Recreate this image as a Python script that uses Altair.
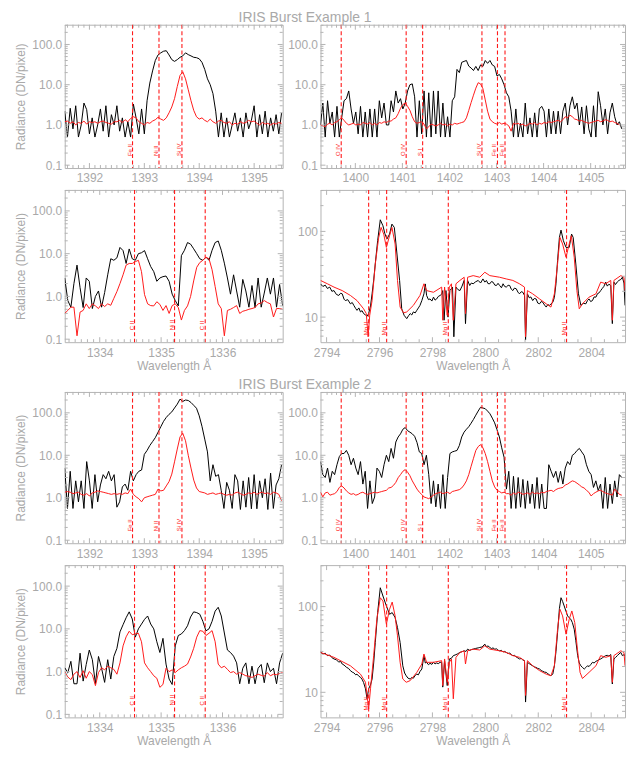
import altair as alt
import pandas as pd

FONT = "Liberation Sans, Arial, sans-serif"
TXT = "#a9a9a9"
FRAME = "#b3b3b3"
RED = "#ff1a1a"
STEP = 0.05

# ---------------- wavelength windows / ticks ----------------
SI3_DOM = [1391.55, 1395.52]
SI3_MAJ = [1392, 1393, 1394, 1395]
SI4_DOM = [1399.26, 1405.73]
SI4_MAJ = [1400, 1401, 1402, 1403, 1404, 1405]
C2_DOM = [1333.43, 1336.98]
C2_MAJ = [1334, 1335, 1336]
MG_DOM = [2793.77, 2805.28]
MG_MAJ = [2794, 2796, 2798, 2800, 2802, 2804]

FUV_YDOM = [0.085, 310]
FUV_YMAJ = [0.1, 1, 10, 100]
FUV_YMIN = [0.2, 0.3, 0.4, 0.5, 0.6, 0.7, 0.8, 0.9, 2, 3, 4, 5, 6, 7, 8, 9,
            20, 30, 40, 50, 60, 70, 80, 90, 200, 300]
MG_YDOM = [5.1, 305]
MG_YMAJ = [10, 100]
MG_YMIN = [6, 7, 8, 9, 20, 30, 40, 50, 60, 70, 80, 90, 200, 300]

# line markers
SI3_LINES = [1392.785, 1393.267, 1393.685]
SI3_LABS = ["Fe II", "Ni II", "Si IV"]
SI4_LINES = [1399.70, 1401.08, 1401.43, 1402.69, 1403.02, 1403.18]
SI4_LABS = ["O IV", "O IV", "S I", "Si IV", "Fe II", "Fe II"]
C2_LINES = [1334.567, 1335.219, 1335.718]
C2_LABS = ["C II", "Ni II", "C II"]
MG_LINES = [2795.59, 2796.27, 2798.60, 2803.07]
MG_LABS = ["Mg II", "Mg II", "Mg II", "Mg II"]

# ---------------- Example 1 spectra ----------------
A1_black = [2.2, 0.5, 2.6, 0.8, 3.0, 0.5, 1.0, 3.5, 2.4, 0.6,
            1.5, 0.5, 1.0, 2.5, 0.7, 3.0, 0.5, 1.8, 1.0, 3.0,
            0.7, 1.5, 0.5, 1.2, 0.5, 3.3, 1.5, 0.6, 2.5, 0.6,
            4.0, 11, 22, 40, 55, 62, 68, 70, 55, 42,
            38, 42, 48, 52, 62, 56, 52, 48, 47, 44,
            36, 24, 14, 10, 6, 2.2, 0.5, 2.0, 0.5, 1.5,
            0.5, 1.0, 2.0, 0.7, 1.5, 0.5, 2.0, 0.8, 1.3, 3.0,
            0.5, 1.8, 0.6, 2.2, 0.5, 1.5, 0.7, 1.8, 0.6, 2.0]
A1_red = [1.2, 1.25, 1.1, 1.2, 1.0, 1.15, 1.1, 1.25, 1.05, 1.2,
          1.15, 1.2, 1.1, 1.2, 1.25, 1.15, 1.1, 1.05, 1.2, 1.2,
          1.3, 1.15, 1.35, 1.2, 1.45, 1.6, 1.5, 1.2, 1.1, 1.0,
          1.15, 1.1, 1.25, 1.35, 1.55, 1.4, 1.3, 1.5, 2.0, 2.8,
          4.5, 9.0, 17, 21, 14, 7.5, 4.0, 2.3, 1.6, 1.4,
          1.5, 1.3, 1.2, 1.4, 1.2, 1.1, 1.25, 1.3, 1.15, 1.1,
          1.2, 1.0, 1.1, 1.05, 1.2, 1.1, 1.15, 1.3, 1.2, 1.25,
          1.1, 1.0, 1.15, 1.05, 1.1, 1.0, 1.1, 1.05, 1.15, 1.1]

B1_black = [1.0, 3.5, 0.5, 4.0, 1.1, 2.1, 0.5, 2.9, 0.5, 1.5,
            4.0, 4.5, 7.0, 2.5, 1.1, 2.1, 0.6, 2.9, 0.5, 2.1,
            0.5, 2.5, 0.5, 2.5, 0.5, 4.0, 1.5, 3.5, 1.0, 1.0,
            4.0, 2.1, 7.0, 3.5, 4.5, 2.5, 3.5, 7.0, 10, 10.5,
            5.0, 0.5, 4.0, 0.6, 7.0, 0.5, 6.3, 0.5, 7.0, 0.6,
            7.0, 0.5, 3.5, 0.5, 1.6, 0.5, 4.0, 5.0, 24, 20,
            36, 38, 40, 29, 26, 22.5, 28.5, 22.5, 31, 28.5,
            40, 34, 40, 31, 28.5, 16.5, 18, 14, 10, 6.3,
            5.0, 2.2, 0.5, 2.5, 0.5, 1.1, 0.5, 3.5, 0.6, 1.5,
            0.5, 2.0, 0.5, 2.5, 2.9, 2.2, 0.5, 2.5, 0.6, 2.2,
            0.6, 2.2, 0.6, 2.2, 3.5, 1.0, 3.0, 5.0, 2.5, 3.5,
            1.0, 2.8, 0.6, 3.0, 0.8, 0.5, 3.0, 0.5, 6.7, 3.0,
            1.0, 2.5, 0.6, 2.0, 3.5, 1.6, 1.0, 1.2, 0.8]
B1_red = [1.0, 0.95, 0.9, 1.05, 1.1, 1.0, 1.15, 1.2, 1.35, 1.5,
          1.3, 1.1, 1.0, 1.05, 1.1, 1.0, 1.05, 1.0, 1.15, 1.1,
          1.05, 1.15, 1.0, 1.1, 1.0, 1.15, 1.1, 1.2, 1.15, 1.25,
          1.25, 1.4, 1.5, 1.9, 2.6, 3.2, 3.5, 2.9, 2.3, 1.6,
          1.2, 1.1, 1.15, 1.2, 1.05, 0.8, 0.9, 1.05, 1.0, 0.95,
          1.0, 1.1, 1.0, 1.05, 0.95, 1.05, 1.0, 1.1, 1.05, 1.1,
          1.15, 1.2, 1.5, 2.3, 3.6, 5.5, 8.2, 11.2, 10.5, 8.0,
          4.2, 2.2, 1.4, 1.2, 1.1, 1.05, 1.15, 1.05, 1.1, 1.05,
          0.95, 0.7, 1.1, 1.05, 1.1, 1.0, 1.05, 0.95, 1.0, 1.1,
          1.05, 1.15, 1.0, 1.1, 1.05, 1.15, 1.1, 1.2, 1.15, 1.2,
          1.25, 1.3, 1.2, 1.35, 1.6, 1.5, 1.75, 1.6, 1.4, 1.35,
          1.25, 1.3, 1.2, 1.15, 1.1, 1.15, 1.2, 1.25, 1.3, 1.2,
          1.25, 1.35, 1.3, 1.2, 1.25, 1.15, 1.1, 1.0]

C1_black = [2.7, 0.8, 0.56, 2.0, 5.4, 1.6, 0.55, 2.7, 2.26, 0.52,
            1.0, 1.34, 0.56, 1.23, 3.2, 7.6, 7.0, 8.0, 14, 11.8,
            5.9, 12.9, 7.6, 7.0, 10, 10.5, 11.8, 7.6, 5.0, 3.8,
            2.26, 2.7, 2.9, 3.0, 2.26, 1.13, 0.8, 0.6, 9.0, 12,
            18.2, 16.7, 13, 10, 7.6, 7.0, 8.3, 7.0, 12, 18.2,
            19.8, 12, 6.0, 2.7, 1.13, 3.2, 1.34, 0.56, 2.5, 1.34,
            0.56, 1.8, 0.55, 2.7, 0.56, 1.2, 2.7, 1.13, 2.7, 0.56,
            1.9, 0.6]
C1_red = [0.4, 0.47, 0.56, 0.56, 0.12, 0.43, 0.47, 0.67, 0.52, 0.67,
          0.6, 0.52, 0.67, 0.58, 0.67, 0.62, 0.9, 1.3, 2.0, 3.2,
          5.4, 5.9, 5.9, 6.5, 7.0, 3.8, 1.1, 0.67, 0.61, 0.6,
          0.75, 0.65, 0.47, 0.61, 0.4, 0.61, 0.67, 0.55, 0.28, 0.47,
          0.6, 1.0, 2.3, 4.8, 6.2, 7.0, 8.3, 7.6, 4.2, 1.7,
          0.67, 0.52, 0.12, 0.47, 0.5, 0.55, 0.61, 0.4, 0.45, 0.47,
          0.5, 0.52, 0.55, 0.67, 0.7, 0.8, 0.72, 0.67, 0.33, 0.52,
          0.52, 0.5]

D1_black = [(2793.77, 24.4), (2793.86, 22.8), (2793.95, 23.6), (2794.03, 21.6), (2794.12, 22.4),
            (2794.20, 20.0), (2794.28, 20.4), (2794.37, 18.4), (2794.46, 17.9), (2794.53, 19.0),
            (2794.59, 18.7), (2794.66, 16.2), (2794.71, 15.6), (2794.80, 16.0), (2794.90, 14.3),
            (2794.97, 14.8), (2795.03, 13.7), (2795.10, 12.6), (2795.15, 12.0), (2795.22, 12.8),
            (2795.28, 11.5), (2795.34, 11.9), (2795.40, 11.0), (2795.47, 10.6), (2795.53, 10.2),
            (2795.59, 11.0), (2795.66, 13.5), (2795.72, 18.7), (2795.78, 27.0), (2795.84, 41.7),
            (2795.93, 77.9), (2796.03, 136.7), (2796.13, 116.4), (2796.20, 95.0), (2796.28, 81.4),
            (2796.38, 93.1), (2796.47, 121.7), (2796.56, 111.3), (2796.66, 54.5), (2796.76, 26.8),
            (2796.84, 12.5), (2796.93, 10.5), (2797.03, 9.6), (2797.10, 10.4), (2797.16, 11.0),
            (2797.22, 10.6), (2797.28, 11.5), (2797.35, 11.2), (2797.41, 12.0), (2797.47, 12.8),
            (2797.53, 13.7), (2797.60, 15.6), (2797.68, 18.7), (2797.73, 24.4), (2797.78, 17.9),
            (2797.85, 16.0), (2797.91, 16.3), (2797.98, 15.4), (2798.04, 17.1), (2798.10, 15.8),
            (2798.16, 16.3), (2798.22, 17.4), (2798.29, 17.9), (2798.35, 18.5), (2798.39, 20.4),
            (2798.44, 9.2), (2798.51, 20.4), (2798.59, 10.0), (2798.66, 20.4), (2798.76, 22.4),
            (2798.81, 5.9), (2798.89, 22.4), (2798.96, 21.0), (2799.04, 20.4), (2799.12, 23.0),
            (2799.20, 26.8), (2799.25, 8.4), (2799.33, 26.8), (2799.41, 23.4), (2799.47, 25.0),
            (2799.54, 24.5), (2799.63, 25.8), (2799.73, 26.8), (2799.82, 25.0), (2799.91, 27.9),
            (2799.98, 25.6), (2800.04, 26.8), (2800.10, 24.6), (2800.17, 24.5), (2800.23, 26.0),
            (2800.29, 25.6), (2800.36, 23.6), (2800.42, 23.4), (2800.48, 24.8), (2800.54, 23.4),
            (2800.61, 22.0), (2800.67, 24.5), (2800.73, 22.8), (2800.79, 22.4), (2800.86, 23.5),
            (2800.92, 23.4), (2800.98, 21.2), (2801.04, 20.4), (2801.10, 21.8), (2801.17, 21.4),
            (2801.23, 19.6), (2801.29, 18.7), (2801.36, 19.8), (2801.42, 19.5), (2801.48, 17.9),
            (2801.52, 5.4), (2801.59, 18.7), (2801.66, 16.8), (2801.72, 17.2), (2801.79, 15.6),
            (2801.85, 16.5), (2801.92, 16.3), (2801.98, 14.6), (2802.05, 14.3), (2802.11, 15.2),
            (2802.17, 14.9), (2802.24, 13.8), (2802.30, 13.1), (2802.36, 14.0), (2802.42, 13.7),
            (2802.48, 14.2), (2802.55, 14.9), (2802.61, 17.0), (2802.67, 24.5), (2802.73, 45.6),
            (2802.80, 85.1), (2802.86, 103.6), (2802.95, 77.9), (2803.05, 65.1), (2803.17, 65.1),
            (2803.26, 93.1), (2803.32, 85.1), (2803.42, 41.7), (2803.52, 18.7), (2803.61, 13.7),
            (2803.70, 14.5), (2803.80, 14.3), (2803.86, 15.6), (2803.92, 16.3), (2803.98, 15.2),
            (2804.05, 15.6), (2804.11, 17.2), (2804.18, 17.1), (2804.24, 18.8), (2804.30, 19.2),
            (2804.36, 20.4), (2804.42, 21.6), (2804.48, 22.8), (2804.55, 25.6), (2804.61, 23.0),
            (2804.67, 24.2), (2804.74, 23.4), (2804.80, 8.4), (2804.86, 25.6), (2804.92, 24.0),
            (2804.99, 25.8), (2805.05, 26.8), (2805.12, 27.5), (2805.18, 29.2), (2805.24, 25.0),
            (2805.28, 13.7)]
D1_red = [(2793.77, 26.8), (2794.03, 24.5), (2794.28, 22.4), (2794.59, 20.4), (2794.90, 17.9),
          (2795.15, 15.6), (2795.40, 12.5), (2795.50, 11.0), (2795.57, 5.9), (2795.63, 10.5),
          (2795.72, 15.6), (2795.84, 41.7), (2795.97, 85.1), (2796.06, 111.3), (2796.16, 93.1),
          (2796.26, 65.1), (2796.38, 89.0), (2796.47, 111.3), (2796.59, 71.3), (2796.68, 26.8),
          (2796.78, 13.1), (2796.91, 11.2), (2797.03, 11.5), (2797.28, 13.7), (2797.53, 17.9),
          (2797.68, 24.5), (2797.78, 20.4), (2798.04, 19.5), (2798.35, 22.4), (2798.39, 9.2),
          (2798.46, 22.4), (2798.56, 10.5), (2798.64, 22.4), (2798.72, 24.5), (2798.79, 9.2),
          (2798.89, 24.5), (2799.04, 26.8), (2799.20, 29.2), (2799.25, 11.0), (2799.33, 29.2),
          (2799.54, 30.5), (2799.79, 29.2), (2799.98, 33.4), (2800.17, 30.5), (2800.54, 29.2),
          (2800.79, 27.9), (2801.04, 26.8), (2801.29, 24.5), (2801.48, 22.4), (2801.52, 5.9),
          (2801.59, 20.4), (2801.79, 18.7), (2802.05, 16.3), (2802.30, 14.3), (2802.48, 13.1),
          (2802.61, 18.7), (2802.73, 41.7), (2802.82, 85.1), (2802.92, 71.3), (2803.05, 49.9),
          (2803.17, 71.3), (2803.25, 89.0), (2803.36, 49.9), (2803.46, 20.4), (2803.55, 12.5),
          (2803.67, 14.3), (2803.92, 17.1), (2804.18, 18.7), (2804.36, 25.6), (2804.55, 24.5),
          (2804.74, 26.8), (2804.80, 9.2), (2804.86, 26.8), (2805.12, 30.5), (2805.24, 29.2),
          (2805.28, 20.4)]

# ---------------- Example 2 spectra ----------------
A2_black = [5.0, 0.56, 4.2, 0.56, 2.5, 0.8, 2.5, 0.56, 7.1, 2.5,
            0.56, 3.5, 0.8, 2.0, 3.5, 2.8, 4.2, 2.5, 3.5, 0.6,
            0.8, 1.8, 2.1, 1.5, 4.2, 2.5, 3.5, 4.2, 4.5, 10.5,
            13, 17, 21, 26, 35, 47, 63, 78, 92, 105,
            130, 160, 210, 185, 200, 195, 175, 150, 128, 85,
            48, 24, 12, 2.5, 6.0, 3.2, 3.5, 1.5, 0.56, 2.3,
            1.5, 0.56, 3.5, 2.5, 0.53, 2.5, 0.6, 3.0, 0.55, 3.5,
            0.55, 2.5, 1.0, 2.8, 0.53, 3.8, 0.56, 2.0, 2.8, 6.0]
A2_red = [1.35, 1.4, 1.35, 1.25, 1.3, 1.35, 1.2, 1.15, 1.25, 1.1,
          1.3, 1.35, 1.45, 1.4, 1.35, 1.3, 1.25, 1.2, 1.25, 1.2,
          1.25, 1.2, 1.3, 1.25, 1.6, 1.2, 1.05, 0.95, 0.8, 1.0,
          1.05, 1.1, 1.15, 1.2, 1.6, 1.45, 1.5, 1.9, 2.4, 3.6,
          7.0, 14, 27, 33, 22, 10, 5.0, 2.6, 1.7, 1.4,
          1.35, 1.3, 1.2, 1.25, 1.3, 1.2, 1.25, 1.3, 1.2, 1.15,
          1.2, 1.15, 1.3, 1.35, 1.25, 1.15, 1.2, 1.3, 1.25, 1.35,
          1.2, 1.3, 1.35, 1.25, 1.3, 1.2, 1.35, 1.3, 1.2, 0.85]

B2_black = [7.1, 3.5, 3.0, 5.0, 2.3, 4.2, 3.5, 6.0, 9.3, 11,
            11, 13, 10, 6.0, 8.5, 5.0, 3.5, 7.1, 2.1, 4.2,
            0.56, 2.5, 0.73, 1.04, 5.0, 4.2, 3.0, 6.0, 10, 7.1,
            14.5, 8.5, 20.5, 27, 32, 41, 45, 38, 35, 32,
            28, 20, 12, 11, 6.0, 10, 3.5, 0.73, 2.5, 0.61,
            2.1, 0.56, 3.5, 0.56, 3.0, 11, 12, 12.5, 13, 17,
            27, 35, 41, 47, 57, 70, 88, 110, 135, 130,
            125, 110, 95, 75, 58, 40, 27, 15, 9.0, 1.6,
            4.2, 0.56, 3.2, 0.56, 3.0, 0.6, 2.7, 0.56, 2.5, 0.73,
            2.1, 0.56, 3.0, 0.56, 2.1, 0.56, 0.56, 6.0, 4.2, 3.0,
            4.2, 2.3, 4.2, 2.1, 5.0, 7.1, 6.0, 10, 11, 13,
            14.5, 12, 10, 6.0, 4.2, 3.5, 1.75, 2.5, 1.47, 2.1,
            0.56, 3.0, 0.56, 2.1, 0.73, 2.5, 1.04, 3.5, 3.0]
B2_red = [1.35, 1.05, 1.3, 1.35, 1.15, 1.2, 1.25, 1.4, 1.75, 1.9,
          1.7, 1.45, 1.3, 1.2, 1.25, 1.15, 1.2, 1.3, 1.35, 1.25,
          1.2, 1.25, 1.3, 1.35, 1.3, 1.35, 1.4, 1.45, 1.5, 1.7,
          1.75, 1.95, 2.3, 2.97, 3.5, 4.2, 4.6, 4.0, 3.3, 2.5,
          2.0, 1.6, 1.35, 1.2, 1.04, 1.0, 0.95, 1.05, 1.15, 1.25,
          1.3, 1.35, 1.25, 1.3, 1.35, 1.25, 1.4, 1.45, 1.5, 1.55,
          1.7, 2.0, 2.5, 3.5, 5.5, 8.5, 13, 16, 17.8, 15,
          11, 7.1, 4.2, 2.5, 1.8, 1.5, 1.4, 1.3, 1.35, 1.25,
          1.25, 1.15, 1.3, 1.2, 1.35, 1.3, 1.2, 1.25, 1.3, 1.2,
          1.35, 1.25, 1.3, 1.25, 1.35, 1.3, 1.4, 1.45, 1.5, 1.4,
          1.55, 1.65, 1.7, 1.75, 2.0, 2.1, 2.3, 2.5, 2.4, 2.2,
          2.0, 1.8, 1.7, 1.5, 1.35, 1.1, 1.25, 1.35, 1.45, 1.5,
          1.4, 1.3, 1.25, 1.2, 1.15, 1.6, 1.4, 1.2, 1.15]

C2_black = [1.23, 0.95, 1.74, 0.52, 0.52, 2.7, 0.6, 1.47, 3.2, 1.9,
            0.52, 2.26, 1.2, 0.56, 1.9, 0.67, 2.26, 3.5, 8.5, 12.5,
            18.2, 25, 17, 6.4, 10, 12.9, 16.7, 20, 13, 10,
            5.0, 2.8, 6.0, 1.5, 0.67, 0.5, 4.0, 7.0, 7.6, 9.1,
            11.8, 19, 25, 24, 22, 15, 9.0, 10, 15, 26,
            32, 20, 8.0, 3.2, 2.8, 2.3, 1.6, 0.52, 1.2, 1.6,
            0.52, 1.34, 0.52, 1.2, 1.47, 0.55, 1.6, 1.0, 1.2, 0.52,
            1.6, 2.7]
C2_red = [1.0, 0.75, 0.65, 0.87, 1.0, 0.73, 1.05, 0.7, 1.0, 0.85,
          0.47, 0.95, 1.23, 1.1, 1.34, 1.23, 1.13, 0.87, 1.6, 4.0,
          6.5, 8.8, 7.3, 7.6, 7.9, 5.0, 1.6, 1.23, 1.0, 0.8,
          0.7, 0.43, 0.5, 1.2, 1.0, 1.1, 0.95, 1.1, 1.23, 1.34,
          1.5, 2.2, 3.5, 6.4, 9.1, 8.8, 7.0, 7.9, 9.1, 5.0,
          1.5, 1.23, 1.34, 1.13, 0.95, 1.0, 0.87, 0.95, 0.87, 0.8,
          0.78, 0.73, 0.8, 0.87, 0.82, 0.78, 0.95, 0.8, 0.87, 0.85,
          0.9, 0.95]

D2_black = [(2793.77, 29.5), (2793.86, 28.0), (2793.95, 28.6), (2794.03, 26.8), (2794.12, 27.2),
            (2794.20, 25.4), (2794.28, 24.5), (2794.37, 24.0), (2794.46, 22.5), (2794.53, 23.0),
            (2794.59, 21.4), (2794.66, 20.8), (2794.75, 19.6), (2794.83, 19.0), (2794.90, 17.9),
            (2794.97, 17.2), (2795.03, 16.9), (2795.10, 16.0), (2795.15, 16.3), (2795.22, 15.4),
            (2795.28, 15.0), (2795.34, 14.2), (2795.40, 13.0), (2795.47, 11.0), (2795.53, 8.4),
            (2795.59, 11.0), (2795.66, 12.2), (2795.72, 14.3), (2795.78, 22.0), (2795.84, 38.1),
            (2795.93, 85.1), (2796.03, 166.0), (2796.13, 133.0), (2796.26, 101.8), (2796.38, 81.4),
            (2796.48, 85.1), (2796.59, 74.5), (2796.68, 57.0), (2796.78, 38.1), (2796.88, 20.4),
            (2796.95, 16.8), (2797.01, 15.6), (2797.08, 14.6), (2797.16, 14.3), (2797.22, 14.9),
            (2797.28, 14.6), (2797.35, 15.8), (2797.41, 16.3), (2797.47, 16.0), (2797.53, 17.5),
            (2797.60, 18.7), (2797.68, 26.8), (2797.73, 22.0), (2797.78, 22.4), (2797.85, 21.0),
            (2797.91, 21.8), (2797.98, 21.2), (2798.04, 22.4), (2798.10, 21.5), (2798.16, 22.0),
            (2798.22, 21.6), (2798.29, 22.4), (2798.35, 22.4), (2798.39, 11.5), (2798.46, 23.4),
            (2798.56, 12.0), (2798.64, 24.5), (2798.72, 25.0), (2798.79, 26.8), (2798.89, 27.5),
            (2798.96, 28.2), (2799.04, 29.2), (2799.12, 29.8), (2799.20, 30.5), (2799.27, 30.0),
            (2799.33, 31.9), (2799.41, 30.8), (2799.47, 31.5), (2799.54, 31.9), (2799.63, 32.5),
            (2799.73, 33.0), (2799.79, 33.4), (2799.88, 33.8), (2799.98, 36.5), (2800.04, 34.0),
            (2800.10, 34.8), (2800.17, 33.4), (2800.23, 32.4), (2800.29, 33.0), (2800.36, 31.8),
            (2800.42, 32.2), (2800.48, 31.0), (2800.54, 30.5), (2800.61, 30.9), (2800.67, 29.6),
            (2800.73, 30.0), (2800.79, 29.2), (2800.86, 28.4), (2800.92, 28.8), (2800.98, 27.5),
            (2801.04, 26.8), (2801.10, 27.0), (2801.17, 25.8), (2801.23, 25.2), (2801.29, 24.5),
            (2801.36, 24.8), (2801.42, 23.8), (2801.48, 23.4), (2801.52, 7.7), (2801.59, 22.4),
            (2801.66, 21.6), (2801.72, 21.0), (2801.79, 20.4), (2801.85, 19.8), (2801.92, 19.5),
            (2801.98, 19.0), (2802.05, 18.7), (2802.11, 18.0), (2802.17, 17.6), (2802.24, 17.2),
            (2802.30, 17.1), (2802.36, 16.5), (2802.42, 16.0), (2802.48, 15.6), (2802.55, 16.4),
            (2802.61, 20.4), (2802.67, 30.0), (2802.73, 49.9), (2802.80, 95.0), (2802.86, 127.0),
            (2802.92, 115.0), (2802.98, 101.8), (2803.05, 88.0), (2803.11, 77.9), (2803.17, 74.0),
            (2803.23, 71.3), (2803.29, 65.0), (2803.36, 54.5), (2803.42, 40.0), (2803.49, 26.8),
            (2803.55, 22.0), (2803.61, 20.4), (2803.67, 19.5), (2803.74, 18.7), (2803.80, 19.5),
            (2803.86, 20.4), (2803.92, 20.0), (2803.98, 21.0), (2804.05, 22.4), (2804.11, 22.0),
            (2804.18, 23.0), (2804.23, 23.4), (2804.30, 24.0), (2804.36, 24.5), (2804.42, 25.2),
            (2804.48, 26.0), (2804.55, 26.8), (2804.61, 27.0), (2804.67, 26.5), (2804.74, 27.6),
            (2804.80, 12.5), (2804.86, 24.5), (2804.92, 25.5), (2804.99, 26.8), (2805.05, 28.0),
            (2805.12, 29.2), (2805.18, 26.8), (2805.24, 27.5), (2805.28, 26.8)]
D2_red = [(2793.77, 29.2), (2794.28, 25.6), (2794.90, 20.4), (2795.28, 16.3), (2795.47, 13.1),
          (2795.53, 9.2), (2795.59, 6.4), (2795.66, 11.0), (2795.78, 26.8), (2795.90, 71.3),
          (2796.03, 127.0), (2796.13, 116.4), (2796.26, 62.3), (2796.38, 93.1), (2796.48, 113.0),
          (2796.59, 77.9), (2796.68, 45.6), (2796.78, 22.4), (2796.88, 14.3), (2797.01, 13.1),
          (2797.16, 13.7), (2797.41, 17.1), (2797.60, 21.4), (2797.68, 28.0), (2797.78, 22.4),
          (2798.04, 22.4), (2798.35, 23.4), (2798.39, 12.0), (2798.46, 24.5), (2798.56, 13.1),
          (2798.64, 22.4), (2798.72, 24.5), (2798.79, 8.4), (2798.89, 25.6), (2799.04, 29.2),
          (2799.20, 30.5), (2799.25, 21.4), (2799.33, 30.5), (2799.54, 31.9), (2799.79, 31.2),
          (2799.98, 34.9), (2800.17, 31.9), (2800.54, 30.5), (2800.79, 29.2), (2801.04, 26.8),
          (2801.29, 25.6), (2801.48, 23.4), (2801.52, 9.2), (2801.59, 23.4), (2801.79, 20.4),
          (2802.05, 17.9), (2802.30, 16.3), (2802.48, 15.6), (2802.61, 20.4), (2802.73, 54.5),
          (2802.82, 93.1), (2802.92, 77.9), (2803.05, 47.7), (2803.17, 71.3), (2803.27, 89.0),
          (2803.38, 65.1), (2803.48, 31.9), (2803.58, 17.1), (2803.67, 14.5), (2803.92, 17.1),
          (2804.18, 20.4), (2804.36, 26.8), (2804.55, 25.6), (2804.74, 26.8), (2804.80, 13.1),
          (2804.86, 26.8), (2805.12, 30.5), (2805.24, 29.2), (2805.28, 20.4)]


def grid_df(start, vals):
    return pd.DataFrame({"wl": [round(start + i * STEP, 4) for i in range(len(vals))], "v": vals})


def pair_df(p):
    return pd.DataFrame(p, columns=["wl", "v"])


def minors(dom, step, majors):
    out = []
    k = int(round(dom[0] / step)) + 1
    while k * step < dom[1]:
        t = round(k * step, 3)
        if all(abs(t - m) > 1e-6 for m in majors):
            out.append(t)
        k += 1
    return out


def panel(black, red, lines, labs, xdom, xmaj, xstep, ydom, ymaj, ymin, yfmt,
          w, h, xtitle, ytitle, lab_off):
    xs = alt.Scale(domain=xdom, nice=False, zero=False)
    ys = alt.Scale(type="log", domain=ydom, nice=False)
    xax = alt.Axis(values=xmaj, format="d", labelFont=FONT, labelFontSize=12,
                   labelColor=TXT, labelPadding=5, ticks=False, domain=False, grid=False,
                   labelFlush=False, labelOverlap=False, title=xtitle, titleFont=FONT,
                   titleFontSize=12, titleColor=TXT, titleFontWeight="normal",
                   titlePadding=2)
    yax = alt.Axis(values=ymaj, format=yfmt, labelFont=FONT, labelFontSize=12,
                   labelColor=TXT, labelPadding=3, ticks=False, domain=False, grid=False,
                   labelFlush=False, labelOverlap=False, title=ytitle, titleFont=FONT,
                   titleFontSize=12, titleColor=TXT, titleFontWeight="normal",
                   titlePadding=7, minExtent=30, maxExtent=30)
    X = alt.X("wl:Q", scale=xs)
    Y = alt.Y("v:Q", scale=ys)
    lb = alt.Chart(black).mark_line(color="black", strokeWidth=1.0, clip=True).encode(
        x=alt.X("wl:Q", scale=xs, axis=xax), y=alt.Y("v:Q", scale=ys, axis=yax))
    lr = alt.Chart(red).mark_line(color=RED, strokeWidth=1.0, clip=True).encode(x=X, y=Y)
    ldf = pd.DataFrame({"wl": lines, "lab": labs})
    rules = alt.Chart(ldf).mark_rule(color=RED, strokeWidth=1.1, strokeDash=[4, 2.5]).encode(x=X)
    texts = alt.Chart(ldf).mark_text(angle=270, align="left", baseline="bottom", fontSize=6,
                                     font=FONT, color=RED).encode(
        x=X, y=alt.value(h - lab_off), text="lab:N")
    layers = [lb, lr, rules, texts]
    xmin = minors(xdom, xstep, xmaj)
    for vals, ln in ((xmaj, 5), (xmin, 3)):
        d = pd.DataFrame({"wl": vals})
        layers.append(alt.Chart(d).mark_rule(color=FRAME).encode(x=X, y=alt.value(h), y2=alt.value(h - ln)))
        layers.append(alt.Chart(d).mark_rule(color=FRAME).encode(x=X, y=alt.value(0), y2=alt.value(ln)))
    for vals, ln in ((ymaj, 5), (ymin, 3)):
        d = pd.DataFrame({"v": vals})
        layers.append(alt.Chart(d).mark_rule(color=FRAME).encode(y=Y, x=alt.value(0), x2=alt.value(ln)))
        layers.append(alt.Chart(d).mark_rule(color=FRAME).encode(y=Y, x=alt.value(w), x2=alt.value(w - ln)))
    return alt.layer(*layers).properties(width=w, height=h)


YT = "Radiance (DN/pixel)"
XT = "Wavelength Å"
WL, WR = 219, 306


def example(title, hs, A, B, C, D):
    h1, h2 = hs
    pa = panel(grid_df(SI3_DOM[0], A[0]), grid_df(SI3_DOM[0], A[1]), SI3_LINES, SI3_LABS,
               SI3_DOM, SI3_MAJ, 0.1, FUV_YDOM, FUV_YMAJ, FUV_YMIN, ".1f", WL, h1, None, YT, 12)
    pb = panel(grid_df(SI4_DOM[0], B[0]), grid_df(SI4_DOM[0], B[1]), SI4_LINES, SI4_LABS,
               SI4_DOM, SI4_MAJ, 0.1, FUV_YDOM, FUV_YMAJ, FUV_YMIN, ".1f", WR, h1, None, None, 12)
    pc = panel(grid_df(C2_DOM[0], C[0]), grid_df(C2_DOM[0], C[1]), C2_LINES, C2_LABS,
               C2_DOM, C2_MAJ, 0.1, FUV_YDOM, FUV_YMAJ, FUV_YMIN, ".1f", WL, h2, XT, YT, 12)
    pd_ = panel(pair_df(D[0]), pair_df(D[1]), MG_LINES, MG_LABS,
                MG_DOM, MG_MAJ, 0.5, MG_YDOM, MG_YMAJ, MG_YMIN, "d", WR, h2, XT, None, 7)
    return alt.concat(pa, pb, pc, pd_, columns=2, spacing={"row": 22, "column": 38},
                      bounds="flush",
                      title=alt.TitleParams(title, anchor="start", align="center", dx=292,
                                            fontSize=14, font=FONT, color=TXT,
                                            fontWeight="normal", offset=-15, baseline="bottom"))


g1 = example("IRIS Burst Example 1", (144, 153), (A1_black, A1_red), (B1_black, B1_red),
             (C1_black, C1_red), (D1_black, D1_red))
g2 = example("IRIS Burst Example 2", (152, 153), (A2_black, A2_red), (B2_black, B2_red),
             (C2_black, C2_red), (D2_black, D2_red))

chart = alt.vconcat(g1, g2, spacing=5).properties(
    padding={"left": 6, "top": 0, "right": 6, "bottom": 4}
).configure_view(stroke=FRAME, strokeWidth=1)

chart.save("out.html", embed_options={"renderer": "svg", "actions": False})
